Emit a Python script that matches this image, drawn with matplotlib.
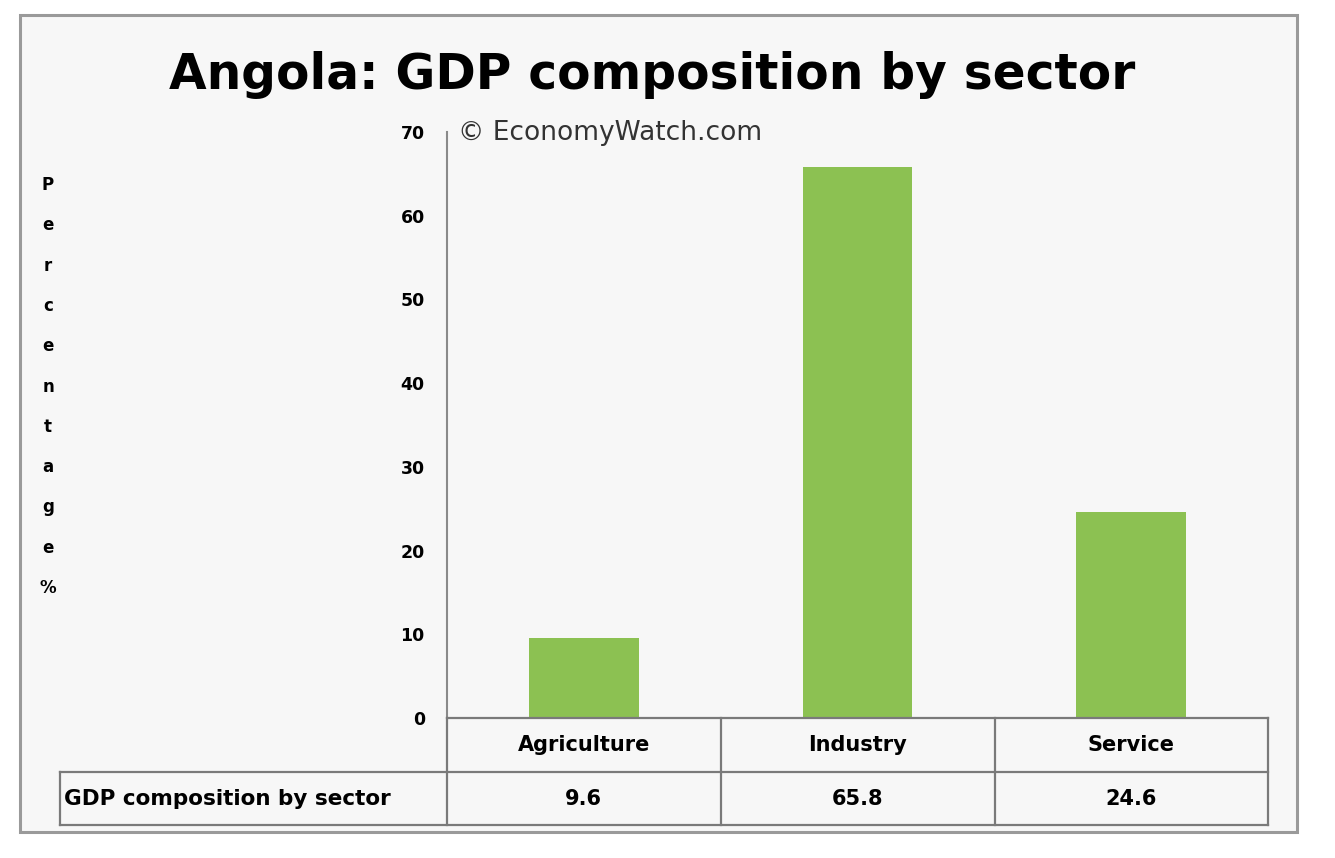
import matplotlib
matplotlib.use("Agg")
import matplotlib.pyplot as plt
from matplotlib.patches import Rectangle
from matplotlib.lines import Line2D
from matplotlib import transforms

sectors = ["Agriculture", "Industry", "Service"]
shares = [9.6, 65.8, 24.6]
row_label = "GDP composition by sector"
y_ticks = [0, 10, 20, 30, 40, 50, 60, 70]
ylabel_chars = list("Percentage%")

W, H = 1335, 858
fig = plt.figure(figsize=(W / 100, H / 100), dpi=100, facecolor="white")


def fx(px):
    return px / W


def fy(py):
    return 1 - py / H


# outer frame, behind everything
fig.add_artist(Rectangle((fx(20), fy(832)), fx(1297) - fx(20), fy(15) - fy(832),
                         transform=fig.transFigure, facecolor="#f7f7f7",
                         edgecolor="#9a9a9a", lw=2.2, zorder=-5))

ax = fig.add_axes([fx(447), fy(718), fx(1268) - fx(447), fy(132) - fy(718)])
ax.set_facecolor("none")
x = [i + 0.5 for i in range(len(sectors))]
ax.bar(x, shares, width=0.4, color="#8cc152", edgecolor="none")
ax.set_xlim(0, 3)
ax.set_ylim(0, 70)
ax.set_yticks(y_ticks)
ax.set_yticklabels([str(v) for v in y_ticks], fontsize=12.5, fontweight="bold")
ax.tick_params(axis="y", length=0, pad=16)
ax.set_xticks([])
for s in ["top", "right", "bottom"]:
    ax.spines[s].set_visible(False)
ax.spines["left"].set_color("#8a8a8a")
ax.spines["left"].set_linewidth(1.5)

# title and source
fig.text(fx(652), fy(75), "Angola: GDP composition by sector", ha="center",
         va="center", fontsize=35, fontweight="bold")
fig.text(fx(458), fy(133), "\u00a9 EconomyWatch.com", ha="left", va="center",
         fontsize=19, color="#333333")

# stacked y label
for i, ch in enumerate(ylabel_chars):
    fig.text(fx(48), fy(185 + i * 40.3), ch, ha="center", va="center",
             fontsize=12, fontweight="bold")

# data table
lc = "#7a7a7a"
lines = [
    ((447, 1268), (718, 718)),
    ((60, 1268), (772, 772)),
    ((60, 1268), (825, 825)),
    ((60, 60), (772, 825)),
    ((447, 447), (718, 825)),
    ((721, 721), (718, 825)),
    ((995, 995), (718, 825)),
    ((1268, 1268), (718, 825)),
]
for (x0, x1), (y0, y1) in lines:
    fig.add_artist(Line2D([fx(x0), fx(x1)], [fy(y0), fy(y1)],
                          transform=fig.transFigure, color=lc, lw=1.6))

trans = transforms.blended_transform_factory(ax.transData, fig.transFigure)
for xi, name, val in zip(x, sectors, shares):
    ax.text(xi, fy(745), name, transform=trans, ha="center", va="center",
            fontsize=15, fontweight="bold", clip_on=False)
    ax.text(xi, fy(799), f"{val:.1f}", transform=trans, ha="center",
            va="center", fontsize=15, fontweight="bold", clip_on=False)
fig.text(fx(64), fy(799), row_label, ha="left", va="center", fontsize=15.5,
         fontweight="bold")

fig.savefig("out.png", dpi=100, facecolor=fig.get_facecolor())
